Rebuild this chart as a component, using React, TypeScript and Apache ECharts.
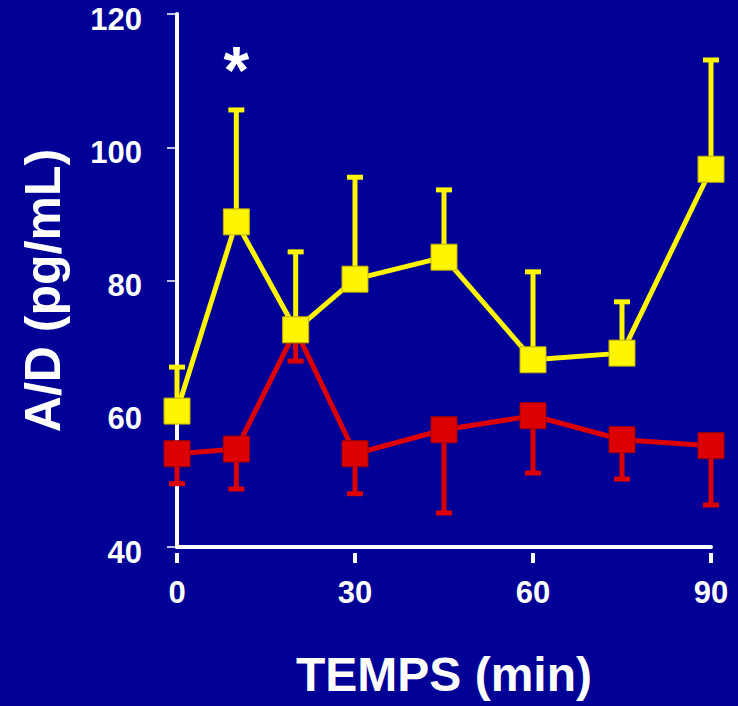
import React, { useEffect, useRef } from "react";
import * as echarts from "echarts";

const xValues = [0, 10, 20, 30, 45, 60, 75, 90];
const yellowMean = [60.4, 88.8, 72.6, 80.2, 83.5, 68.1, 69.1, 96.7];
const yellowUpper = [67.0, 105.6, 84.3, 95.5, 93.6, 81.3, 76.8, 113.1];
const redMean = [54.0, 54.7, 72.6, 54.0, 57.6, 59.7, 56.1, 55.2];
const redLower = [49.5, 48.7, 67.9, 48.0, 45.1, 51.1, 50.2, 46.3];
const starPoint = [10, 111.6];

const BG = "#000096";
const YELLOW = "#FFF500";
const RED = "#DD0000";
const FONT = "'Liberation Sans', Arial, sans-serif";

function errorSeries(mean: number[], bound: number[], color: string, z: number) {
  return {
    type: "custom",
    z,
    data: xValues.map((x, i) => [x, mean[i], bound[i]]),
    renderItem: (params: any, api: any) => {
      const x = api.value(0);
      const m = api.value(1);
      const b = api.value(2);
      const p0 = api.coord([x, m]);
      const p1 = api.coord([x, b]);
      return {
        type: "group",
        children: [
          {
            type: "line",
            shape: { x1: p0[0], y1: p0[1], x2: p1[0], y2: p1[1] },
            style: { stroke: color, lineWidth: 5 },
          },
          {
            type: "line",
            shape: { x1: p1[0] - 8, y1: p1[1], x2: p1[0] + 8, y2: p1[1] },
            style: { stroke: color, lineWidth: 5 },
          },
        ],
      };
    },
  };
}

function lineSeries(mean: number[], color: string, border: string, z: number) {
  return {
    type: "line",
    z,
    data: xValues.map((x, i) => [x, mean[i]]),
    symbol: "rect",
    symbolSize: 26,
    lineStyle: { color, width: 5 },
    itemStyle: { color, borderColor: border, borderWidth: 1 },
  };
}

export default function App() {
  const ref = useRef<HTMLDivElement>(null);
  useEffect(() => {
    document.body.style.margin = "0";
    const chart = echarts.init(ref.current!, null, { renderer: "svg" });
    const axisLabel = { color: "#fff", fontSize: 31, fontWeight: "bold", fontFamily: FONT };
    chart.setOption({
      animation: false,
      backgroundColor: BG,
      grid: { left: 177, right: 27, top: 14, bottom: 159, containLabel: false, outerBoundsMode: "none" },
      xAxis: [
        {
          type: "value",
          min: 0,
          max: 90,
          interval: 30,
          position: "bottom",
          name: "TEMPS (min)",
          nameLocation: "middle",
          nameGap: 103,
          nameTextStyle: { color: "#fff", fontSize: 48, fontWeight: "bold", fontFamily: FONT },
          axisLine: { show: true, lineStyle: { color: "#fff", width: 4 } },
          axisTick: { show: false },
          axisLabel: { ...axisLabel, margin: 30 },
          splitLine: { show: false },
        },
        {
          type: "value",
          min: 0,
          max: 90,
          interval: 30,
          position: "bottom",
          offset: 6,
          axisLine: { show: false },
          axisTick: { show: true, length: 10, lineStyle: { color: "#fff", width: 4 } },
          axisLabel: { show: false },
          splitLine: { show: false },
        },
      ],
      yAxis: {
        type: "value",
        min: 40,
        max: 120,
        interval: 20,
        name: "A/D (pg/mL)",
        nameLocation: "middle",
        nameGap: 109,
        nameTextStyle: {
          color: "#fff",
          fontSize: 50,
          fontWeight: "bold",
          fontFamily: FONT,
          padding: [0, 20, 0, 0],
        },
        axisLine: { show: true, lineStyle: { color: "#fff", width: 4 } },
        axisTick: { show: true, length: 10, lineStyle: { color: "#fff", width: 1.5 } },
        axisLabel: { ...axisLabel, margin: 35, verticalAlign: "top", lineHeight: 10 },
        splitLine: { show: false },
      },
      series: [
        errorSeries(redMean, redLower, RED, 2),
        lineSeries(redMean, RED, "#a00000", 3),
        errorSeries(yellowMean, yellowUpper, YELLOW, 4),
        lineSeries(yellowMean, YELLOW, "#c0b000", 5),
        {
          type: "scatter",
          z: 6,
          data: [starPoint],
          symbol: "circle",
          symbolSize: 1,
          itemStyle: { color: "rgba(0,0,0,0)", opacity: 1 },
          label: {
            show: true,
            position: "inside",
            formatter: "*",
            color: "#fff",
            fontSize: 66,
            fontWeight: "bold",
            fontFamily: FONT,
            textBorderWidth: 0,
          },
        },
      ],
    });
    return () => chart.dispose();
  }, []);
  return <div ref={ref} style={{ width: 738, height: 706 }} />;
}
